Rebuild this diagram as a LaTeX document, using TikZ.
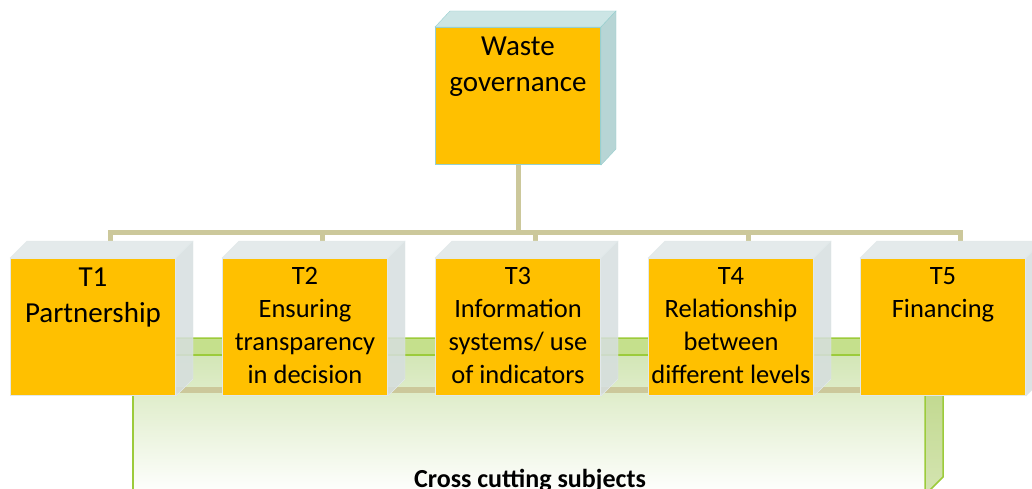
\documentclass[tikz,border=0pt]{standalone}
\usepackage{fontspec}
\setmainfont{Carlito}
\usetikzlibrary{calc}

\definecolor{gold}{HTML}{FFC000}
\definecolor{bustan}{HTML}{CCC89B}
\definecolor{leaf}{HTML}{9CCB3B}
\definecolor{leaftop}{HTML}{C5E08C}
\definecolor{leafside}{HTML}{B8D37E}
\definecolor{leafpale}{HTML}{D3E6B6}
\definecolor{sidegrey}{HTML}{D6DEDF}
\definecolor{topgrey}{HTML}{E4EAEB}
\definecolor{edgegrey}{HTML}{E2E9EA}
\definecolor{govtop}{HTML}{CCE5E5}
\definecolor{govside}{HTML}{B7D5D5}
\definecolor{govedge}{HTML}{96CFCF}

\begin{document}
\begin{tikzpicture}[x=1pt,y=-1pt,
  face/.style={draw=edgegrey, line width=1pt, fill=gold, minimum width=165pt,
    minimum height=137pt, inner sep=0pt, anchor=north west},
  boxtext/.style={anchor=north, align=center, inner sep=0pt,
    font=\fontsize{26.5}{33}\selectfont},
  bus/.style={draw=bustan, line width=5pt}]
  \useasboundingbox (0,0) rectangle (1032,489);
  \clip (0,0) rectangle (1032,489);

  % cross cutting band
  \filldraw[fill=leaftop, draw=leaf, line width=1.5pt] (133,355) -- (151,338) -- (943,338) -- (925,355) -- cycle;
  \shade[top color=leafpale, bottom color=white] (133,355) rectangle (925,495);
  \shadedraw[top color=leafside, bottom color=leafside!60!white, draw=leaf, line width=1.5pt]
    (925,355) -- (943,338) -- (943,477) -- (925,495) -- cycle;
  \draw[leaf, line width=1.5pt] (133,495) -- (133,355) -- (925,355);
  \fill[bustan] (175,387) rectangle (860,393);
  \node[font=\bfseries\fontsize{26}{30}\selectfont, anchor=base] (cross) at (530,487) {Cross cutting subjects};

  % boxes
  \node[face, draw=govedge] (gov) at (435,27) {};
  \node[face] (t1) at (10,258) {};
  \node[face] (t2) at (222,258) {};
  \node[face] (t3) at (435,258) {};
  \node[face] (t4) at (648,258) {};
  \node[face] (t5) at (860,258) {};

  % connectors
  \coordinate (bus) at (518,232);
  \draw[bus] (gov.south) -- (bus);
  \foreach \n in {t1,t2,t3,t4,t5}
    \draw[bus] (bus) -| ($(\n.north)+(17,-17)$);

  % depth faces
  \filldraw[fill=govtop, draw=govedge] (gov.north west) -- ++(15,-16) -- ($(gov.north east)+(15,-16)$) -- (gov.north east) -- cycle;
  \filldraw[fill=govside, draw=govedge] (gov.north east) -- ++(15,-16) -- ($(gov.south east)+(15,-16)$) -- (gov.south east) -- cycle;
  \foreach \n in {t1,t2,t3,t4,t5} {
    \filldraw[fill=topgrey, draw=edgegrey] (\n.north west) -- ++(17,-17) -- ($(\n.north east)+(17,-17)$) -- (\n.north east) -- cycle;
    \filldraw[fill=sidegrey, draw=edgegrey, fill opacity=.85] (\n.north east) -- ++(17,-17) -- ($(\n.south east)+(17,-17)$) -- (\n.south east) -- cycle;
  }

  % texts
  \node[boxtext, font=\fontsize{29}{35.5}\selectfont] (govtxt) at ($(gov.north)+(0,10)$) {Waste\\governance};
  \node[boxtext, font=\fontsize{29}{35.5}\selectfont] (t1txt) at ($(t1.north)+(0,10)$) {T1\\Partnership};
  \node[boxtext] (t2txt) at ($(t2.north)+(0,9)$) {T2\\Ensuring\\transparency\\in decision};
  \node[boxtext] (t3txt) at ($(t3.north)+(0,9)$) {T3\\Information\\systems/ use\\of indicators};
  \node[boxtext] (t4txt) at ($(t4.north)+(0,9)$) {T4\\Relationship\\between\\different levels};
  \node[boxtext] (t5txt) at ($(t5.north)+(0,9)$) {T5\\Financing};
\end{tikzpicture}
\end{document}
